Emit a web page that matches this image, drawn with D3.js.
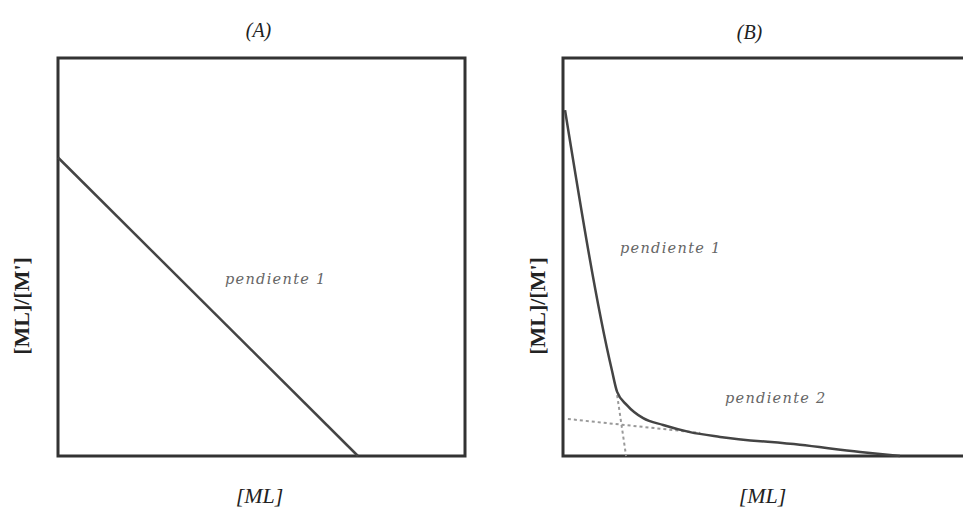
<!DOCTYPE html>
<html>
  <head>
    <script type="text/javascript" src="https://cdn.jsdelivr.net/npm/d3@7"></script>
    <style>
      body { margin: 0; background: #fff; }
      .title { font-family: "Liberation Serif", "DejaVu Serif", serif; font-style: italic; font-size: 20px; fill: #222; }
      .xlab { font-family: "Liberation Serif", "DejaVu Serif", serif; font-style: italic; font-size: 22px; fill: #222; }
      .ylab { font-family: "Liberation Serif", "DejaVu Serif", serif; font-weight: bold; font-size: 22px; fill: #222; }
      .note { font-family: "DejaVu Serif", serif; font-style: italic; font-size: 14.5px; letter-spacing: 1.3px; fill: #666; }
    </style>
  </head>
  <body>
  <script type='text/javascript'>

    // panel A: one straight line
    var lineA = [[0, 0.75], [0.737, 0]];

    // panel B: curved plot, two slopes
    var curveB = [[0.005, 0.869], [0.120, 0.216], [0.133, 0.161], [0.157, 0.128],
                  [0.197, 0.095], [0.246, 0.078], [0.312, 0.060], [0.386, 0.048],
                  [0.582, 0.028], [0.730, 0.010], [0.828, 0.0]];
    var dotH = [[0.012, 0.093], [0.337, 0.058]];
    var dotV = [[0.133, 0.153], [0.155, 0]];

    var titles = ["(A)", "(B)"];
    var xLabel = "[ML]";
    var yLabel = "[ML]/[M']";

    var W = 963, H = 507;
    var BOX_W = 407, BOX_H = 398;
    var TOP = 58;

    var svg = d3.select("body").append("svg")
        .attr("width", W)
        .attr("height", H);

    function panel(left, title, notes){
      var x = d3.scaleLinear().domain([0, 1]).range([left, left + BOX_W]);
      var y = d3.scaleLinear().domain([0, 1]).range([TOP + BOX_H, TOP]);

      svg.append("rect")
          .attr("x", x(0)).attr("y", y(1))
          .attr("width", x(1) - x(0)).attr("height", y(0) - y(1))
          .attr("fill", "none")
          .attr("stroke", "#333")
          .attr("stroke-width", 3);

      svg.append("text").attr("class", "title")
          .attr("x", left + BOX_W / 2 - 3 + (title == "(B)" ? -14 : 0))
          .attr("y", title == "(B)" ? 39 : 37)
          .attr("text-anchor", "middle")
          .text(title);

      svg.append("text").attr("class", "xlab")
          .attr("x", left + BOX_W / 2 - 2 + (title == "(B)" ? -2 : 0))
          .attr("y", 503)
          .attr("text-anchor", "middle")
          .text(xLabel);

      svg.append("text").attr("class", "ylab")
          .attr("transform", "translate(" + (left - (title == "(B)" ? 18 : 29)) + "," + 306 + ") rotate(-90)")
          .attr("text-anchor", "middle")
          .text(yLabel);

      notes.forEach(function(n){
        svg.append("text").attr("class", "note")
            .attr("x", n[0]).attr("y", n[1])
            .text(n[2]);
      });

      return {x: x, y: y};
    }

    var a = panel(58, titles[0], [[225, 284, "pendiente 1"]]);
    var b = panel(563, titles[1], [[620, 253, "pendiente 1"], [725, 403, "pendiente 2"]]);

    var lineGenA = d3.line().x(function(d){ return a.x(d[0]); }).y(function(d){ return a.y(d[1]); });
    var lineGenB = d3.line().x(function(d){ return b.x(d[0]); }).y(function(d){ return b.y(d[1]); });

    svg.append("path")
        .attr("d", lineGenA(lineA))
        .attr("fill", "none")
        .attr("stroke", "#444")
        .attr("stroke-width", 2.5);

    [dotH, dotV].forEach(function(d){
      svg.append("path")
          .attr("d", lineGenB(d))
          .attr("fill", "none")
          .attr("stroke", "#999")
          .attr("stroke-width", 2)
          .attr("stroke-dasharray", "3,3");
    });

    svg.append("path")
        .attr("d", lineGenB.curve(d3.curveMonotoneX)(curveB))
        .attr("fill", "none")
        .attr("stroke", "#444")
        .attr("stroke-width", 2.5);

  </script>
  </body>
</html>
